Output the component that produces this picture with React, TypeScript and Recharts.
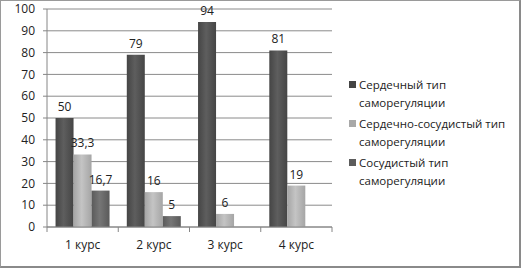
import React from 'react';
import { BarChart, Bar, XAxis, YAxis, CartesianGrid, LabelList } from 'recharts';

const categories = ['1 курс', '2 курс', '3 курс', '4 курс'];
const cardiac = [50, 79, 94, 81];
const cardioVascular = [33.3, 16, 6, 19];
const vascular: (number | null)[] = [16.7, 5, null, null];
const yTicks = [0, 10, 20, 30, 40, 50, 60, 70, 80, 90, 100];
const seriesNames = [
  ['Сердечный тип', 'саморегуляции'],
  ['Сердечно-сосудистый тип', 'саморегуляции'],
  ['Сосудистый тип', 'саморегуляции'],
];

const data = categories.map((c, i) => ({
  name: c,
  s1: cardiac[i],
  s2: cardioVascular[i],
  s3: vascular[i],
}));

const FONT = '"Open Sans", "Noto Sans", sans-serif';
const legendColors = ['#444444', '#a8a8a8', '#5c5c5c'];

const fmt = (v: any) => (v == null ? '' : String(v).replace('.', ','));

const XTick = (props: any) => {
  const { x, y, payload, index, visibleTicksCount } = props;
  const half = 285 / categories.length / 2;
  return (
    <g>
      <line x1={x - half} x2={x - half} y1={y - 8} y2={y - 3} stroke="#868686" />
      {index === visibleTicksCount - 1 && (
        <line x1={x + half} x2={x + half} y1={y - 8} y2={y - 3} stroke="#868686" />
      )}
      <text x={x} y={y + 14} textAnchor="middle" fontSize={12} fontFamily={FONT} fill="#222">
        {payload.value}
      </text>
    </g>
  );
};

const LegendBox = () => (
  <div
    style={{
      position: 'absolute',
      left: 349,
      top: 76,
      width: 170,
      fontFamily: FONT,
      fontSize: 11.5,
      color: '#222',
      lineHeight: '18px',
    }}
  >
    {seriesNames.map((lines, i) => (
      <div key={i} style={{ position: 'relative', paddingLeft: 10, marginBottom: i < 2 ? 3 : 0 }}>
        <span
          style={{
            position: 'absolute',
            left: 0,
            top: 5,
            width: 7,
            height: 7,
            background: legendColors[i],
          }}
        />
        <div>{lines[0]}</div>
        <div>{lines[1]}</div>
      </div>
    ))}
  </div>
);

const Grad = ({ id, edge, mid }: { id: string; edge: string; mid: string }) => (
  <linearGradient id={id} x1="0" y1="0" x2="1" y2="0">
    <stop offset="0%" stopColor={edge} />
    <stop offset="45%" stopColor={mid} />
    <stop offset="100%" stopColor={edge} />
  </linearGradient>
);

const labelStyle = { fontSize: 12, fontFamily: FONT, fill: '#222' };

export default function App() {
  return (
    <div style={{ position: 'fixed', left: 0, top: 0, width: 521, height: 268, background: '#fff' }}>
      <BarChart
        width={521}
        height={268}
        data={data}
        margin={{ top: 9, right: 189, bottom: 11, left: 0 }}
        barCategoryGap="12%"
        barGap={0}
      >
        <defs>
          <Grad id="g1" edge="#454545" mid="#5e5e5e" />
          <Grad id="g2" edge="#a5a5a5" mid="#c4c4c4" />
          <Grad id="g3" edge="#5a5a5a" mid="#767676" />
        </defs>
        <CartesianGrid vertical={false} stroke="#8a8a8a" />
        <XAxis
          dataKey="name"
          height={30}
          stroke="#868686"
          tickLine={false}
          tick={<XTick />}
          interval={0}
        />
        <YAxis
          width={47}
          domain={[0, 100]}
          ticks={yTicks}
          interval={0}
          stroke="#868686"
          tickSize={4}
          tickMargin={8}
          tick={{ fontSize: 12, fontFamily: FONT, fill: '#222' }}
        />
        <Bar dataKey="s1" name="Сердечный тип саморегуляции" fill="url(#g1)" isAnimationActive={false}>
          <LabelList dataKey="s1" position="top" offset={7} formatter={fmt} style={labelStyle} />
        </Bar>
        <Bar dataKey="s2" name="Сердечно-сосудистый тип саморегуляции" fill="url(#g2)" isAnimationActive={false}>
          <LabelList dataKey="s2" position="top" offset={7} formatter={fmt} style={labelStyle} />
        </Bar>
        <Bar dataKey="s3" name="Сосудистый тип саморегуляции" fill="url(#g3)" isAnimationActive={false}>
          <LabelList dataKey="s3" position="top" offset={7} formatter={fmt} style={labelStyle} />
        </Bar>
      </BarChart>
      <LegendBox />
      <div
        style={{
          position: 'absolute',
          left: 0,
          top: 0,
          width: 521,
          height: 268,
          boxSizing: 'border-box',
          borderTop: '1px solid #9a9a9a',
          borderLeft: '1px solid #9a9a9a',
          borderRight: '2px solid #8a8a8a',
          borderBottom: '2px solid #8a8a8a',
          pointerEvents: 'none',
        }}
      />
    </div>
  );
}
